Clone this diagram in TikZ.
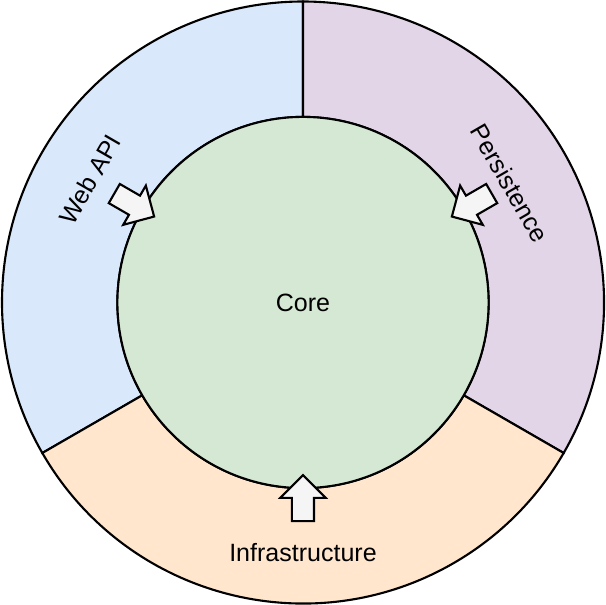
\documentclass[tikz,border=0pt]{standalone}
\usepackage{fontspec}
\setmainfont{Liberation Sans}
\usetikzlibrary{shapes.arrows}
\definecolor{apiblue}{HTML}{DAE8FC}
\definecolor{persistpurple}{HTML}{E1D5E7}
\definecolor{infraorange}{HTML}{FFE6CC}
\definecolor{coregreen}{HTML}{D5E8D4}
\definecolor{arrowgray}{HTML}{F5F5F5}
\tikzset{
  ring/.style={draw=black,line width=1.5pt},
  corev/.style={circle,draw=black,line width=1.5pt,fill=coregreen,minimum size=9.28cm,inner sep=0pt},
  inarrow/.style={single arrow,draw=black,line width=1.5pt,fill=arrowgray,minimum height=1.15cm,inner sep=0.25cm,single arrow head extend=0.29cm,anchor=tip}
}

\begin{document}
\begin{tikzpicture}[x=1cm,y=1cm,every node/.style={font=\fontsize{17.8}{21}\selectfont}]
  \useasboundingbox (-7.575,-7.5625) rectangle (7.575,7.5625);
  % outer ring, one sector per layer
  \filldraw[ring,fill=apiblue] (90:7.525) arc (90:210:7.525) -- (210:4.64) arc (210:90:4.64) -- cycle;
  \filldraw[ring,fill=persistpurple] (-30:7.525) arc (-30:90:7.525) -- (90:4.64) arc (90:-30:4.64) -- cycle;
  \filldraw[ring,fill=infraorange] (210:7.525) arc (210:330:7.525) -- (330:4.64) arc (330:210:4.64) -- cycle;
  \node[corev] (core) at (0,0) {Core};
  \node[inarrow,rotate=-30] (apiarrow) at (150:4.26) {};
  \node[inarrow,rotate=210] (persistarrow) at (30:4.26) {};
  \node[inarrow,rotate=90] (infraarrow) at (270:4.28) {};
  \node[rotate=60] (webapi) at (150:6.15) {Web API};
  \node[rotate=-60] (persistence) at (30:5.97) {Persistence};
  \node (infra) at (0,-6.24) {Infrastructure};
\end{tikzpicture}
\end{document}
